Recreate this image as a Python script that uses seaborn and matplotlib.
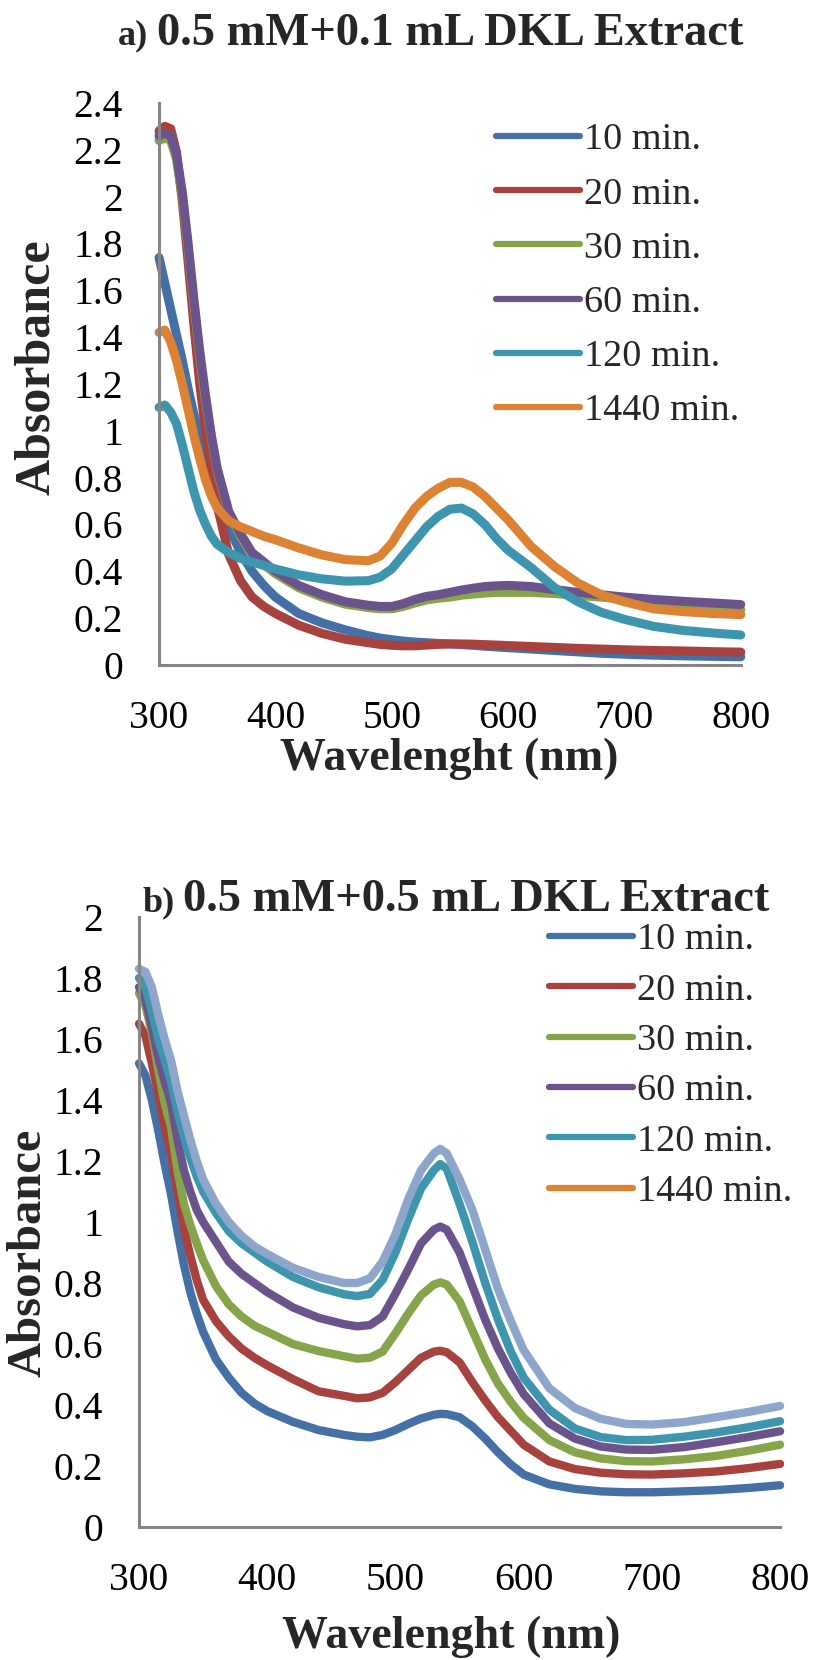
import numpy as np
import pandas as pd
import matplotlib
matplotlib.use('Agg')
import matplotlib.pyplot as plt
from matplotlib.lines import Line2D
import seaborn as sns

labels = ['10 min.', '20 min.', '30 min.', '60 min.', '120 min.', '1440 min.']
colors = ['#4470A6', '#A8423F', '#86A44A', '#6B548C', '#3D96AE', '#DB8233']
# in panel b the 1440 min. curve is drawn light blue, the legend still says orange
b_colors = colors[:5] + ['#8EA6CC']

# ---- panel a: 0.5 mM + 0.1 mL DKL extract
wl_a = [300, 305, 310, 315, 320, 325, 330, 335, 340, 345, 350, 360, 370, 380,
        390, 400, 420, 440, 460, 480, 490, 500, 510, 520, 530, 540, 550, 560,
        570, 580, 590, 600, 620, 640, 660, 680, 700, 725, 750, 775, 800]
a_10 = [1.74, 1.63, 1.52, 1.41, 1.30, 1.18, 1.07, 0.98, 0.90, 0.82, 0.74, 0.59,
        0.48, 0.40, 0.34, 0.29, 0.22, 0.18, 0.15, 0.125, 0.115, 0.108, 0.102,
        0.098, 0.095, 0.092, 0.09, 0.087, 0.084, 0.08, 0.077, 0.074, 0.068,
        0.062, 0.056, 0.05, 0.046, 0.042, 0.039, 0.037, 0.035]
a_20 = [2.28, 2.30, 2.29, 2.19, 1.98, 1.72, 1.45, 1.20, 1.00, 0.83, 0.68, 0.47,
        0.36, 0.29, 0.25, 0.22, 0.17, 0.135, 0.11, 0.095, 0.088, 0.084, 0.082,
        0.082, 0.085, 0.088, 0.09, 0.09, 0.089, 0.087, 0.085, 0.083, 0.079,
        0.075, 0.071, 0.068, 0.065, 0.062, 0.06, 0.057, 0.055]
a_30 = [2.24, 2.25, 2.24, 2.16, 2.00, 1.78, 1.54, 1.32, 1.13, 0.97, 0.83, 0.645,
        0.55, 0.47, 0.43, 0.39, 0.33, 0.29, 0.26, 0.245, 0.24, 0.24, 0.25,
        0.265, 0.278, 0.285, 0.29, 0.298, 0.303, 0.307, 0.31, 0.31, 0.31,
        0.305, 0.297, 0.29, 0.28, 0.268, 0.255, 0.245, 0.236]
a_60 = [2.26, 2.27, 2.26, 2.18, 2.02, 1.80, 1.56, 1.34, 1.15, 0.98, 0.84, 0.655,
        0.56, 0.48, 0.44, 0.40, 0.34, 0.30, 0.27, 0.255, 0.25, 0.25, 0.262,
        0.28, 0.293, 0.30, 0.31, 0.32, 0.328, 0.335, 0.338, 0.34, 0.335,
        0.322, 0.31, 0.30, 0.29, 0.28, 0.272, 0.265, 0.258]
a_120 = [1.10, 1.11, 1.08, 1.03, 0.94, 0.84, 0.74, 0.66, 0.60, 0.55, 0.515,
         0.48, 0.455, 0.44, 0.425, 0.41, 0.385, 0.368, 0.358, 0.36, 0.375,
         0.41, 0.47, 0.53, 0.59, 0.635, 0.665, 0.67, 0.645, 0.60, 0.54, 0.49,
         0.415, 0.33, 0.27, 0.225, 0.195, 0.165, 0.148, 0.137, 0.128]
a_1440 = [1.42, 1.43, 1.38, 1.30, 1.20, 1.09, 0.98, 0.88, 0.79, 0.72, 0.67,
          0.615, 0.59, 0.57, 0.55, 0.535, 0.50, 0.47, 0.45, 0.445, 0.465,
          0.52, 0.60, 0.67, 0.72, 0.755, 0.78, 0.78, 0.76, 0.72, 0.67, 0.62,
          0.505, 0.42, 0.35, 0.30, 0.27, 0.24, 0.228, 0.22, 0.215]

# ---- panel b: 0.5 mM + 0.5 mL DKL extract
wl_b = [300, 305, 310, 315, 320, 325, 330, 335, 340, 345, 350, 360, 370, 380,
        390, 400, 420, 440, 460, 470, 480, 490, 500, 510, 520, 530, 535, 540,
        550, 560, 570, 580, 590, 600, 620, 640, 660, 680, 700, 725, 750, 775,
        800]
b_10 = [1.52, 1.48, 1.40, 1.30, 1.19, 1.09, 0.97, 0.86, 0.77, 0.70, 0.64, 0.55,
        0.49, 0.44, 0.405, 0.38, 0.345, 0.318, 0.302, 0.296, 0.294, 0.302,
        0.318, 0.338, 0.356, 0.368, 0.371, 0.37, 0.36, 0.33, 0.29, 0.245,
        0.205, 0.172, 0.14, 0.125, 0.117, 0.114, 0.114, 0.117, 0.121, 0.128,
        0.137]
b_20 = [1.65, 1.61, 1.52, 1.42, 1.31, 1.22, 1.10, 0.98, 0.89, 0.81, 0.745,
        0.675, 0.625, 0.585, 0.555, 0.53, 0.485, 0.445, 0.43, 0.422, 0.425,
        0.44, 0.475, 0.515, 0.555, 0.575, 0.578, 0.573, 0.54, 0.475, 0.415,
        0.36, 0.315, 0.27, 0.215, 0.19, 0.178, 0.173, 0.172, 0.176, 0.182,
        0.193, 0.207]
b_30 = [1.75, 1.71, 1.62, 1.50, 1.39, 1.31, 1.17, 1.06, 0.99, 0.93, 0.875,
        0.79, 0.73, 0.69, 0.66, 0.64, 0.60, 0.577, 0.56, 0.552, 0.555, 0.575,
        0.635, 0.70, 0.76, 0.795, 0.802, 0.795, 0.74, 0.645, 0.55, 0.47, 0.41,
        0.358, 0.285, 0.245, 0.225, 0.216, 0.215, 0.222, 0.233, 0.25, 0.27]
b_60 = [1.77, 1.73, 1.64, 1.54, 1.46, 1.39, 1.27, 1.17, 1.10, 1.04, 1.00,
        0.935, 0.87, 0.83, 0.80, 0.77, 0.72, 0.686, 0.665, 0.658, 0.662, 0.69,
        0.765, 0.845, 0.93, 0.975, 0.985, 0.975, 0.90, 0.79, 0.68, 0.585,
        0.505, 0.436, 0.34, 0.29, 0.264, 0.254, 0.253, 0.262, 0.278, 0.295,
        0.314]
b_120 = [1.80, 1.77, 1.69, 1.60, 1.53, 1.46, 1.36, 1.28, 1.21, 1.15, 1.10,
         1.03, 0.97, 0.93, 0.90, 0.87, 0.82, 0.786, 0.763, 0.757, 0.764, 0.81,
         0.90, 1.01, 1.11, 1.17, 1.19, 1.175, 1.06, 0.935, 0.80, 0.68, 0.575,
         0.49, 0.385, 0.323, 0.295, 0.285, 0.286, 0.296, 0.31, 0.327, 0.347]
b_1440 = [1.83, 1.82, 1.77, 1.68, 1.60, 1.53, 1.43, 1.35, 1.27, 1.20, 1.14,
          1.06, 1.00, 0.955, 0.92, 0.895, 0.85, 0.82, 0.80, 0.80, 0.815, 0.87,
          0.96, 1.075, 1.17, 1.225, 1.24, 1.225, 1.14, 1.04, 0.91, 0.78, 0.675,
          0.58, 0.455, 0.39, 0.355, 0.338, 0.336, 0.344, 0.36, 0.377, 0.397]

a_yticks = [0, 0.2, 0.4, 0.6, 0.8, 1, 1.2, 1.4, 1.6, 1.8, 2, 2.2, 2.4]
b_yticks = [0, 0.2, 0.4, 0.6, 0.8, 1, 1.2, 1.4, 1.6, 1.8, 2]
xticks = [300, 400, 500, 600, 700, 800]


def long_form(wl, series):
    frames = []
    for lab, vals in zip(labels, series):
        frames.append(pd.DataFrame({'wl': wl, 'abs': vals, 'time': lab}))
    return pd.concat(frames, ignore_index=True)


df_a = long_form(wl_a, [a_10, a_20, a_30, a_60, a_120, a_1440])
df_b = long_form(wl_b, [b_10, b_20, b_30, b_60, b_120, b_1440])

sns.set_style('white')
plt.rcParams['font.family'] = 'serif'
plt.rcParams['font.serif'] = ['Liberation Serif', 'DejaVu Serif']

fig = plt.figure(figsize=(8.24, 16.6), dpi=100)
ax_a = fig.add_axes([0.193, 0.5994, 0.706, 0.3386])
ax_b = fig.add_axes([0.1687, 0.0801, 0.778, 0.3675])


def draw(ax, df, pal, lw, yticks, ymax):
    sns.lineplot(data=df, x='wl', y='abs', hue='time', hue_order=labels,
                 palette=dict(zip(labels, pal)), estimator=None, sort=False,
                 lw=lw, legend=False, ax=ax)
    for ln in ax.lines:
        ln.set_solid_capstyle('round')
        ln.set_solid_joinstyle('round')
        ln.set_clip_on(False)
    ax.set_xlim(300, 800)
    ax.set_ylim(0, ymax)
    ax.set_xticks(xticks)
    ax.set_yticks(yticks)
    ax.set_yticklabels(['%g' % t for t in yticks])
    ax.set_xlabel('')
    ax.set_ylabel('')
    for s in ['top', 'right']:
        ax.spines[s].set_visible(False)
    for s in ['left', 'bottom']:
        ax.spines[s].set_color('#868686')
        ax.spines[s].set_linewidth(2.2)
    ax.tick_params(axis='both', length=0, labelsize=28.5, colors='black')
    ax.tick_params(axis='x', pad=25)
    ax.tick_params(axis='y', pad=26)


draw(ax_a, df_a, colors, 6.5, a_yticks, 2.4)
draw(ax_b, df_b, b_colors, 6, b_yticks, 2)

handles = [Line2D([], [], color=c, lw=4.5, solid_capstyle='round') for c in colors]
ax_a.legend(handles, labels, loc='upper left', bbox_to_anchor=(0.58, 0.965),
            frameon=False, fontsize=27.5, handlelength=2.2, handletextpad=0.1,
            labelspacing=0.51, borderpad=0, borderaxespad=0)
ax_b.legend(handles, labels, loc='upper left', bbox_to_anchor=(0.64, 0.991),
            frameon=False, fontsize=27.5, handlelength=2.2, handletextpad=0.1,
            labelspacing=0.41, borderpad=0, borderaxespad=0)

# titles
fig.text(0.1796, 0.973, 'a)', ha='right', va='baseline', fontsize=26, fontweight='bold')
fig.text(0.1905, 0.973, '0.5 mM+0.1 mL DKL Extract', ha='left', va='baseline',
         fontsize=33.5, fontweight='bold')
fig.text(0.2124, 0.451, 'b)', ha='right', va='baseline', fontsize=26, fontweight='bold')
fig.text(0.222, 0.451, '0.5 mM+0.5 mL DKL Extract', ha='left', va='baseline',
         fontsize=33.5, fontweight='bold')

# axis titles
fig.text(0.545, 0.536, 'Wavelenght (nm)', ha='center', va='baseline',
         fontsize=33, fontweight='bold')
fig.text(0.547, 0.0072, 'Wavelenght (nm)', ha='center', va='baseline',
         fontsize=33, fontweight='bold')
fig.text(0.045, 0.779, 'Absorbance', ha='center', va='center', rotation=90,
         fontsize=36, fontweight='bold')
fig.text(0.035, 0.245, 'Absorbance', ha='center', va='center', rotation=90,
         fontsize=35, fontweight='bold')

fig.savefig('out.png', dpi=100, facecolor='white')
